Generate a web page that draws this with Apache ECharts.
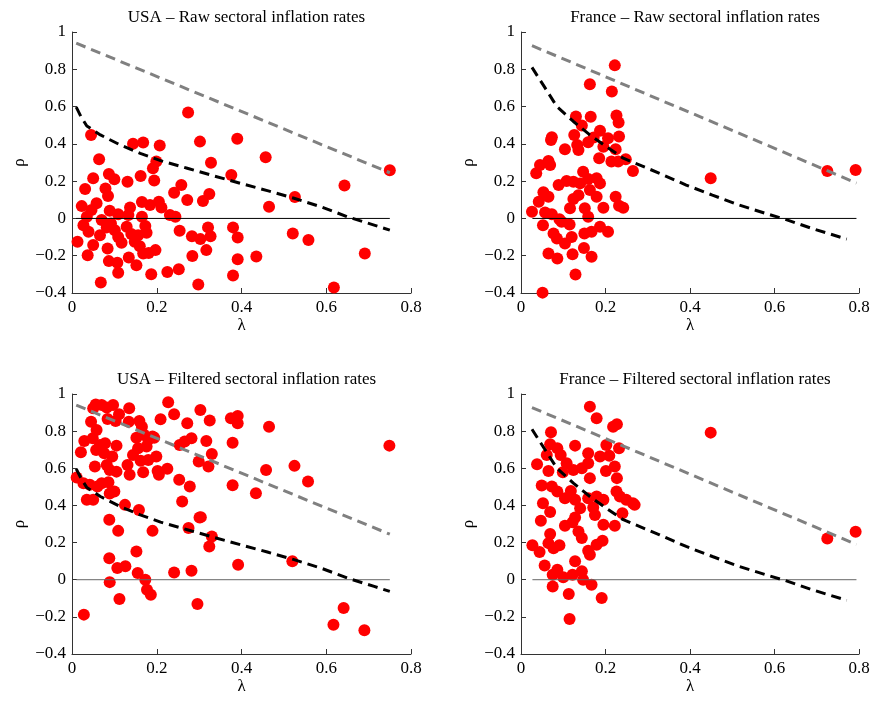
<!DOCTYPE html>
<html>
<head>
<meta charset="utf-8">
<script src="https://cdn.jsdelivr.net/npm/echarts@6/dist/echarts.min.js"></script>
<style>
html,body{margin:0;padding:0;background:#fff;}
#chart{width:873px;height:701px;}
</style>
</head>
<body>
<div id="chart"></div>
<script>
// ---------- Data ----------
var titles = [
  'USA \u2013 Raw sectoral inflation rates',
  'France \u2013 Raw sectoral inflation rates',
  'USA \u2013 Filtered sectoral inflation rates',
  'France \u2013 Filtered sectoral inflation rates'
];
var xTicks = [0, 0.2, 0.4, 0.6, 0.8];
var yTicks = [-0.4, -0.2, 0, 0.2, 0.4, 0.6, 0.8, 1];

// USA raw
var usaRawLambda = [0.045,0.144,0.168,0.207,0.064,0.191,0.199,0.087,0.100,0.050,0.131,0.162,0.194,0.031,0.079,0.085,0.058,0.023,0.046,0.089,0.109,0.133,0.137,0.165,0.184,0.205,0.211,0.241,0.258,0.272,0.231,0.244,0.165,0.027,0.039,0.066,0.092,0.101,0.109,0.129,0.140,0.156,0.173,0.176,0.013,0.050,0.084,0.117,0.148,0.160,0.037,0.168,0.181,0.197,0.087,0.107,0.134,0.152,0.109,0.187,0.225,0.252,0.068,0.070,0.082,0.035,
  0.274,0.302,0.390,0.328,0.376,0.457,0.309,0.324,0.465,0.526,0.643,0.750,0.254,0.283,0.303,0.321,0.327,0.317,0.284,0.298,0.380,0.391,0.435,0.380,0.391,0.521,0.558,0.691,0.618];
var usaRawRho = [0.448,0.400,0.407,0.391,0.317,0.269,0.305,0.238,0.210,0.215,0.197,0.228,0.203,0.158,0.161,0.120,0.081,0.066,0.045,0.041,0.022,0.018,0.059,0.088,0.072,0.090,0.059,0.138,0.179,0.099,0.018,0.009,0.009,-0.036,-0.072,-0.090,-0.027,-0.063,-0.099,-0.045,-0.084,-0.090,-0.041,-0.077,-0.125,-0.143,-0.161,-0.131,-0.125,-0.149,-0.197,-0.188,-0.185,-0.170,-0.229,-0.238,-0.210,-0.251,-0.292,-0.299,-0.287,-0.272,-0.344,-0.009,-0.048,0.009,
  0.568,0.412,0.427,0.299,0.233,0.328,0.093,0.131,0.063,0.115,0.177,0.258,-0.066,-0.095,-0.111,-0.048,-0.095,-0.170,-0.201,-0.355,-0.306,-0.219,-0.204,-0.048,-0.102,-0.081,-0.116,-0.188,-0.371];

// France raw
var fraRawLambda = [0.222,0.163,0.215,0.130,0.165,0.226,0.231,0.144,0.073,0.071,0.126,0.187,0.159,0.172,0.206,0.232,0.104,0.136,0.133,0.195,0.224,0.185,0.214,0.230,0.248,0.265,0.045,0.065,0.069,0.036,0.147,0.089,0.108,0.124,0.140,0.159,0.179,0.187,0.053,0.065,0.042,0.124,0.136,0.163,0.179,0.195,0.224,0.242,0.232,0.116,0.151,0.159,0.026,0.057,0.073,0.091,0.096,0.115,0.052,0.077,0.085,0.104,0.120,0.150,0.167,0.187,0.206,0.065,0.086,0.122,0.149,0.167,0.129,0.051,0.449,0.725,0.792];
var fraRawRho = [0.821,0.720,0.681,0.547,0.545,0.552,0.514,0.498,0.435,0.421,0.448,0.470,0.409,0.434,0.430,0.439,0.371,0.367,0.394,0.385,0.371,0.323,0.305,0.305,0.317,0.254,0.287,0.308,0.287,0.242,0.251,0.179,0.201,0.197,0.188,0.211,0.215,0.188,0.140,0.116,0.090,0.104,0.125,0.152,0.116,0.057,0.116,0.057,0.068,0.054,0.054,0.009,0.036,0.032,0.022,-0.004,-0.018,-0.032,-0.036,-0.081,-0.108,-0.134,-0.099,-0.081,-0.072,-0.045,-0.072,-0.188,-0.215,-0.192,-0.158,-0.206,-0.301,-0.398,0.215,0.254,0.260];

// USA filtered
var usaFiltLambda = [0.056,0.070,0.097,0.082,0.050,0.135,0.111,0.084,0.103,0.045,0.227,0.241,0.209,0.134,0.159,0.165,0.058,0.272,0.303,0.152,0.170,0.180,0.194,0.176,0.156,0.282,0.266,0.029,0.049,0.066,0.078,0.105,0.021,0.057,0.076,0.095,0.144,0.199,0.180,0.162,0.054,0.082,0.089,0.105,0.131,0.136,0.168,0.202,0.225,0.205,0.299,0.253,0.278,0.011,0.027,0.042,0.060,0.070,0.086,0.100,0.089,0.035,0.050,0.125,0.158,0.260,0.088,0.109,0.190,0.301,0.275,0.088,0.152,0.107,0.126,0.155,0.173,0.241,0.282,0.089,
  0.325,0.317,0.330,0.322,0.375,0.391,0.391,0.379,0.465,0.379,0.434,0.458,0.525,0.557,0.749,0.304,0.330,0.324,0.392,0.520,0.296,0.177,0.186,0.112,0.028,0.617,0.641,0.690,0.254,0.190];
var usaFiltRho = [0.944,0.941,0.941,0.927,0.923,0.923,0.891,0.866,0.855,0.851,0.955,0.891,0.864,0.851,0.855,0.824,0.806,0.842,0.914,0.765,0.780,0.753,0.765,0.717,0.708,0.762,0.744,0.747,0.762,0.726,0.735,0.722,0.686,0.699,0.681,0.663,0.672,0.663,0.645,0.640,0.609,0.618,0.591,0.582,0.618,0.565,0.579,0.586,0.597,0.565,0.636,0.538,0.502,0.550,0.520,0.511,0.502,0.520,0.525,0.475,0.464,0.430,0.430,0.403,0.375,0.421,0.323,0.263,0.263,0.335,0.278,0.116,0.152,0.063,0.072,0.036,0.000,0.039,0.048,-0.013,
  0.857,0.747,0.677,0.609,0.869,0.882,0.842,0.738,0.824,0.509,0.466,0.591,0.613,0.529,0.722,0.337,0.233,0.179,0.081,0.099,-0.131,-0.054,-0.081,-0.104,-0.188,-0.242,-0.152,-0.272,0.726,0.771];

// France filtered
var fraFiltLambda = [0.163,0.179,0.218,0.227,0.071,0.128,0.069,0.086,0.061,0.094,0.038,0.065,0.202,0.232,0.187,0.209,0.159,0.159,0.222,0.108,0.144,0.124,0.099,0.201,0.163,0.227,0.049,0.073,0.086,0.118,0.226,0.234,0.249,0.265,0.052,0.104,0.128,0.159,0.179,0.195,0.140,0.171,0.069,0.047,0.128,0.175,0.240,0.104,0.122,0.136,0.144,0.195,0.222,0.069,0.065,0.077,0.091,0.027,0.044,0.159,0.163,0.179,0.193,0.128,0.056,0.086,0.075,0.100,0.122,0.144,0.147,0.167,0.075,0.113,0.191,0.115,0.449,0.725,0.792,0.269];
var fraFiltRho = [0.932,0.869,0.824,0.837,0.794,0.722,0.729,0.708,0.672,0.672,0.622,0.586,0.726,0.708,0.663,0.668,0.681,0.627,0.609,0.627,0.600,0.591,0.579,0.586,0.547,0.547,0.507,0.502,0.475,0.478,0.475,0.448,0.430,0.412,0.412,0.439,0.430,0.439,0.448,0.430,0.385,0.389,0.364,0.317,0.335,0.349,0.358,0.290,0.310,0.260,0.224,0.296,0.290,0.246,0.197,0.170,0.185,0.185,0.149,0.156,0.134,0.188,0.210,0.099,0.077,0.054,0.027,0.013,0.027,0.045,0.000,-0.027,-0.036,-0.077,-0.099,-0.211,0.792,0.222,0.258,0.403];

// Reference lines
var usaBoundLambda = [0.010, 0.750];
var usaBoundRho = [0.940, 0.245];
var usaCurveLambda = [0.010,0.021,0.035,0.067,0.114,0.161,0.209,0.272,0.335,0.398,0.461,0.524,0.587,0.650,0.713,0.750];
var usaCurveRho = [0.597,0.547,0.496,0.448,0.394,0.349,0.310,0.269,0.228,0.188,0.149,0.108,0.063,0.009,-0.036,-0.063];
var usaZeroLambda = [0.010, 0.750];

var fraBoundLambda = [0.026, 0.794];
var fraBoundRho = [0.927, 0.190];
var fraCurveLambda = [0.026,0.057,0.085,0.124,0.163,0.202,0.242,0.328,0.391,0.453,0.516,0.579,0.626,0.689,0.771];
var fraCurveRho = [0.810,0.700,0.600,0.520,0.448,0.385,0.323,0.242,0.179,0.125,0.072,0.027,-0.005,-0.054,-0.111];
var fraZeroLambda = [0.027, 0.794];

// ---------- Build chart ----------
function pairs(xs, ys){ var out=[]; for (var i=0;i<xs.length;i++) out.push([xs[i], ys[i]]); return out; }
function zeroPairs(xs){ return xs.map(function(x){ return [x, 0]; }); }

var FONT = 'Liberation Serif';
var grids = [
  {left:72, top:32, width:339, height:261},
  {left:521, top:32, width:338, height:261},
  {left:72, top:394, width:339, height:260},
  {left:521, top:394, width:338, height:260}
];
var titleTops = [4, 4, 366, 366];

var panels = [
  {lam: usaRawLambda, rho: usaRawRho, bL: usaBoundLambda, bR: usaBoundRho, cL: usaCurveLambda, cR: usaCurveRho, z: usaZeroLambda, zc:'#000'},
  {lam: fraRawLambda, rho: fraRawRho, bL: fraBoundLambda, bR: fraBoundRho, cL: fraCurveLambda, cR: fraCurveRho, z: fraZeroLambda, zc:'#000'},
  {lam: usaFiltLambda, rho: usaFiltRho, bL: usaBoundLambda, bR: usaBoundRho, cL: usaCurveLambda, cR: usaCurveRho, z: usaZeroLambda, zc:'#666'},
  {lam: fraFiltLambda, rho: fraFiltRho, bL: fraBoundLambda, bR: fraBoundRho, cL: fraCurveLambda, cR: fraCurveRho, z: fraZeroLambda, zc:'#666'}
];

function fmt(v){ var s = String(Math.round(v*10)/10); return s.replace('-', '\u2212'); }

var option = {
  animation: false,
  backgroundColor: '#fff',
  title: grids.map(function(g, i){
    return {text: titles[i], left: g.left + g.width/2, top: titleTops[i], textAlign: 'center',
      textStyle: {fontFamily: FONT, fontSize: 17, fontWeight: 'normal', color: '#000'}};
  }),
  grid: grids,
  xAxis: grids.map(function(g, i){
    return {type:'value', gridIndex:i, min: xTicks[0], max: xTicks[xTicks.length-1], interval: 0.2,
      name: '\u03bb', nameLocation: 'middle', nameGap: 24,
      nameTextStyle: {fontFamily: FONT, fontSize: 17, color:'#000'},
      axisLine: {show:true, onZero:false, lineStyle:{color:'#333', width:1}},
      axisTick: {show:true, inside:true, length:5, lineStyle:{color:'#333'}},
      axisLabel: {fontFamily: FONT, fontSize: 17, color:'#000', margin: 6, formatter: fmt},
      splitLine: {show:false}};
  }),
  yAxis: grids.map(function(g, i){
    return {type:'value', gridIndex:i, min: yTicks[0], max: yTicks[yTicks.length-1], interval: 0.2,
      name: '\u03c1', nameLocation: 'middle', nameGap: 44, nameRotate: 90,
      nameTextStyle: {fontFamily: FONT, fontSize: 17, color:'#000'},
      axisLine: {show:true, onZero:false, lineStyle:{color:'#333', width:1}},
      axisTick: {show:true, inside:true, length:5, lineStyle:{color:'#333'}},
      axisLabel: {fontFamily: FONT, fontSize: 17, color:'#000', margin: 6, formatter: fmt},
      splitLine: {show:false}};
  }),
  series: []
};

panels.forEach(function(p, i){
  option.series.push({type:'scatter', xAxisIndex:i, yAxisIndex:i, symbol:'circle', symbolSize:12,
    itemStyle:{color:'#ff0000', opacity:1}, data: pairs(p.lam, p.rho), z:2});
  option.series.push({type:'line', xAxisIndex:i, yAxisIndex:i, showSymbol:false, symbol:'none',
    lineStyle:{color:p.zc, width:1}, data: zeroPairs(p.z), z:3});
  option.series.push({type:'line', xAxisIndex:i, yAxisIndex:i, showSymbol:false, symbol:'none',
    lineStyle:{color:'#808080', width:3, type:[10,6]}, data: pairs(p.bL, p.bR), z:4});
  option.series.push({type:'line', xAxisIndex:i, yAxisIndex:i, showSymbol:false, symbol:'none',
    lineStyle:{color:'#000', width:3, type:[10,6]}, data: pairs(p.cL, p.cR), z:4});
});

var chart = echarts.init(document.getElementById('chart'), null, {renderer:'canvas'});
chart.setOption(option);
</script>
</body>
</html>
